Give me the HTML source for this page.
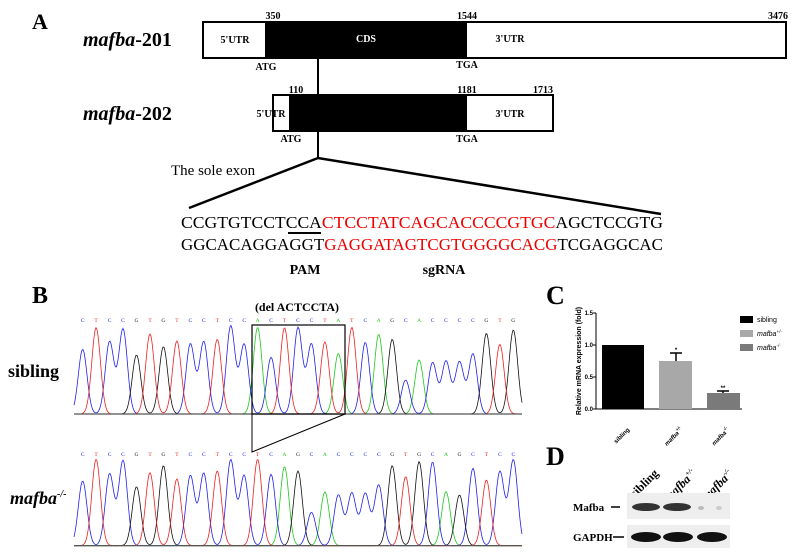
<!DOCTYPE html>
<html><head><meta charset="utf-8"><style>
html,body{margin:0;padding:0;background:#fff;}
svg{display:block;}
text{font-family:"Liberation Serif",serif;}
.s{font-family:"Liberation Sans",sans-serif;}
</style></head><body>
<svg id="sv" width="796" height="560" viewBox="0 0 796 560" xmlns="http://www.w3.org/2000/svg">
<!-- Panel A -->
<text x="32" y="29" font-size="22" font-weight="bold">A</text>
<text x="83" y="46" font-size="20" font-weight="bold" font-style="italic">mafba<tspan font-style="normal">-201</tspan></text>
<text x="83" y="120" font-size="20" font-weight="bold" font-style="italic">mafba<tspan font-style="normal">-202</tspan></text>
<rect x="203" y="22" width="583" height="36" fill="#fff" stroke="#000" stroke-width="2"/>
<rect x="265" y="22" width="202" height="36" fill="#000"/>
<g font-size="10" font-weight="bold" text-anchor="middle">
<text x="273" y="19">350</text><text x="467" y="19">1544</text><text x="778" y="19">3476</text>
<text x="235" y="43">5'UTR</text><text x="366" y="42" fill="#fff">CDS</text><text x="510" y="42">3'UTR</text>
<text x="266" y="70">ATG</text><text x="467" y="68">TGA</text>
<text x="296" y="93">110</text><text x="467" y="93">1181</text><text x="543" y="93">1713</text>
<text x="271" y="117">5'UTR</text><text x="367" y="117" fill="#fff">CDS</text><text x="510" y="117">3'UTR</text>
<text x="291" y="142">ATG</text><text x="467" y="142">TGA</text>
</g>
<rect x="273" y="95" width="280" height="36" fill="none" stroke="#000" stroke-width="2"/>
<rect x="289" y="95" width="178" height="36" fill="#000"/>
<line x1="318" y1="58" x2="318" y2="95" stroke="#000" stroke-width="2"/>
<polyline points="189,208 318,158 661,214" fill="none" stroke="#000" stroke-width="2.5"/>
<line x1="318" y1="131" x2="318" y2="158" stroke="#000" stroke-width="2"/>
<text x="171" y="175" font-size="15">The sole exon</text>
<text x="181" y="228" font-size="17" textLength="482" lengthAdjust="spacingAndGlyphs">CCGTGTCCTCCA<tspan fill="#e00">CTCCTATCAGCACCCCGTGC</tspan>AGCTCCGTG</text>
<text x="181" y="250" font-size="17" textLength="482" lengthAdjust="spacingAndGlyphs">GGCACAGGAGGT<tspan fill="#e00">GAGGATAGTCGTGGGGCACG</tspan>TCGAGGCAC</text>
<line x1="288" y1="233" x2="321" y2="233" stroke="#000" stroke-width="2"/>
<text x="305" y="274" font-size="14" font-weight="bold" text-anchor="middle">PAM</text>
<text x="444" y="274" font-size="14" font-weight="bold" text-anchor="middle">sgRNA</text>

<!-- Panel B -->
<text x="32" y="303" font-size="24" font-weight="bold">B</text>
<text x="297" y="311" font-size="12" font-weight="bold" text-anchor="middle">(del ACTCCTA)</text>
<text x="8" y="377" font-size="18" font-weight="bold">sibling</text>
<text x="10" y="504" font-size="18" font-weight="bold" font-style="italic">mafba<tspan font-size="10" dy="-7">-/-</tspan></text>
<g id="chrom"></g>
<rect x="252" y="325" width="93" height="89" fill="none" stroke="#000" stroke-width="1.2"/>
<polyline points="252,414 252,452 345,414" fill="none" stroke="#000" stroke-width="1"/>

<!-- Panel C -->
<text x="546" y="304" font-size="26" font-weight="bold">C</text>
<g class="s" font-size="6" font-weight="bold">
<line x1="596" y1="313" x2="596" y2="409" stroke="#000" stroke-width="1"/>
<line x1="596" y1="409" x2="742" y2="409" stroke="#000" stroke-width="1"/>
<line x1="593" y1="313" x2="596" y2="313" stroke="#000"/><line x1="593" y1="345" x2="596" y2="345" stroke="#000"/><line x1="593" y1="377" x2="596" y2="377" stroke="#000"/><line x1="593" y1="409" x2="596" y2="409" stroke="#000"/>
<text class="s" x="593" y="315" text-anchor="end">1.5</text>
<text class="s" x="593" y="347" text-anchor="end">1.0</text>
<text class="s" x="593" y="379" text-anchor="end">0.5</text>
<text class="s" x="593" y="411" text-anchor="end">0.0</text>
<text class="s" transform="translate(581,361) rotate(-90)" text-anchor="middle" font-size="7">Relative mRNA expression (fold)</text>
<rect x="602" y="345" width="42" height="64" fill="#000"/>
<rect x="659" y="361" width="33" height="48" fill="#a8a8a8"/>
<rect x="707" y="393" width="33" height="16" fill="#7a7a7a"/>
<line x1="676" y1="361" x2="676" y2="353" stroke="#000" stroke-width="1.5"/><line x1="670" y1="353" x2="682" y2="353" stroke="#000" stroke-width="1.5"/>
<line x1="723" y1="393" x2="723" y2="391" stroke="#000" stroke-width="1.5"/><line x1="717" y1="391" x2="729" y2="391" stroke="#000" stroke-width="1.5"/>
<text class="s" x="676" y="352" text-anchor="middle">*</text>
<text class="s" x="723" y="390" text-anchor="middle">**</text>
<text class="s" transform="translate(623,437) rotate(-45)" text-anchor="middle">sibling</text>
<text class="s" transform="translate(675,438) rotate(-45)" text-anchor="middle" font-style="italic">mafba<tspan font-size="4.5" dy="-3">+/-</tspan></text>
<text class="s" transform="translate(722,438) rotate(-45)" text-anchor="middle" font-style="italic">mafba<tspan font-size="4.5" dy="-3">-/-</tspan></text>
<rect x="740" y="316" width="13" height="7" fill="#000"/>
<rect x="740" y="330" width="13" height="7" fill="#a8a8a8"/>
<rect x="740" y="344" width="13" height="7" fill="#7a7a7a"/>
<text class="s" x="757" y="322" font-weight="normal" font-size="7">sibling</text>
<text class="s" x="757" y="336" font-weight="normal" font-size="7" font-style="italic">mafba<tspan font-size="4.5" dy="-3">+/-</tspan></text>
<text class="s" x="757" y="350" font-weight="normal" font-size="7" font-style="italic">mafba<tspan font-size="4.5" dy="-3">-/-</tspan></text>
</g>

<!-- Panel D -->
<text x="546" y="465" font-size="26" font-weight="bold">D</text>
<text transform="translate(647,486) rotate(-45)" font-size="12" font-weight="bold" text-anchor="middle">sibling</text>
<text transform="translate(683,488) rotate(-45)" font-size="12" font-weight="bold" font-style="italic" text-anchor="middle">mafba<tspan font-size="7" dy="-5">+/-</tspan></text>
<text transform="translate(720,488) rotate(-45)" font-size="12" font-weight="bold" font-style="italic" text-anchor="middle">mafba<tspan font-size="7" dy="-5">-/-</tspan></text>
<rect x="627" y="493" width="103" height="26" fill="#eeeeee"/>
<rect x="627" y="525" width="103" height="23" fill="#eeeeee"/>
<ellipse cx="646" cy="507" rx="14" ry="4" fill="#333"/>
<ellipse cx="677" cy="507" rx="14" ry="4" fill="#333"/>
<ellipse cx="701" cy="508" rx="3" ry="2" fill="#bbb"/>
<ellipse cx="719" cy="508" rx="3" ry="2" fill="#ccc"/>
<ellipse cx="646" cy="537" rx="15" ry="5" fill="#111"/>
<ellipse cx="678" cy="537" rx="15" ry="5" fill="#111"/>
<ellipse cx="712" cy="537" rx="15" ry="5" fill="#111"/>
<text x="573" y="511" font-size="11" font-weight="bold">Mafba</text>
<line x1="611" y1="507" x2="620" y2="507" stroke="#000" stroke-width="1.5"/>
<text x="573" y="541" font-size="11" font-weight="bold">GAPDH</text>
<line x1="613" y1="537" x2="624" y2="537" stroke="#000" stroke-width="1.5"/>
</svg>
<script>
(function(){
var NS="http://www.w3.org/2000/svg",g=document.getElementById("chrom");
var col={A:"#1ec81e",C:"#2020ee",G:"#111",T:"#ee2020"};
function draw(seq,tops,base,oy,ly){
  var n=seq.length,x0=248,dx=(1540-248)/(n-1),sc=1/3;
  var traces={A:[],C:[],G:[],T:[]};
  for(var i=0;i<n;i++){traces[seq[i]].push([x0+i*dx,tops[i]]);}
  for(var b in traces){
    var pts=traces[b];if(!pts.length)continue;
    var d="";
    for(var X=222;X<=1566;X+=3){
      var v=0;for(var k=0;k<pts.length;k++){var u=(X-pts[k][0])/13;v+=(base-pts[k][1])*Math.exp(-u*u/2);}
      var px=X*sc,py=oy+(base-v)*sc;
      d+=(d?"L":"M")+px.toFixed(1)+" "+py.toFixed(1);
    }
    var p=document.createElementNS(NS,"path");p.setAttribute("d",d);p.setAttribute("fill","none");p.setAttribute("stroke",col[b]);p.setAttribute("stroke-width","0.8");g.appendChild(p);
  }
  var l=document.createElementNS(NS,"line");l.setAttribute("x1",222*sc);l.setAttribute("x2",1566*sc);l.setAttribute("y1",oy+base*sc);l.setAttribute("y2",oy+base*sc);l.setAttribute("stroke","#555");l.setAttribute("stroke-width","1.2");g.appendChild(l);
  for(var i=0;i<n;i++){var t=document.createElementNS(NS,"text");t.setAttribute("x",((x0+i*dx)*sc).toFixed(1));t.setAttribute("y",ly);t.setAttribute("font-size","5.5");t.setAttribute("text-anchor","middle");t.setAttribute("fill",col[seq[i]]);t.setAttribute("font-family","Liberation Mono, monospace");t.textContent=seq[i];g.appendChild(t);}
}
draw("CTCCGTGTCCTCCACTCCTATCAGCACCCCGTG",
[208,143,185,147,225,162,200,183,192,185,178,138,193,142,232,143,143,192,186,220,142,187,163,178,300,240,248,244,246,222,160,193,150],402,280,322);
draw("CTCCGTGTCCTCCTCAGCACCCCGTGCAGCTCC",
[603,538,582,542,620,578,557,597,587,580,573,540,587,538,583,560,573,697,636,645,640,641,615,557,590,545,546,635,645,565,600,575,540],797,280,456);
})();
</script>
</body></html>
